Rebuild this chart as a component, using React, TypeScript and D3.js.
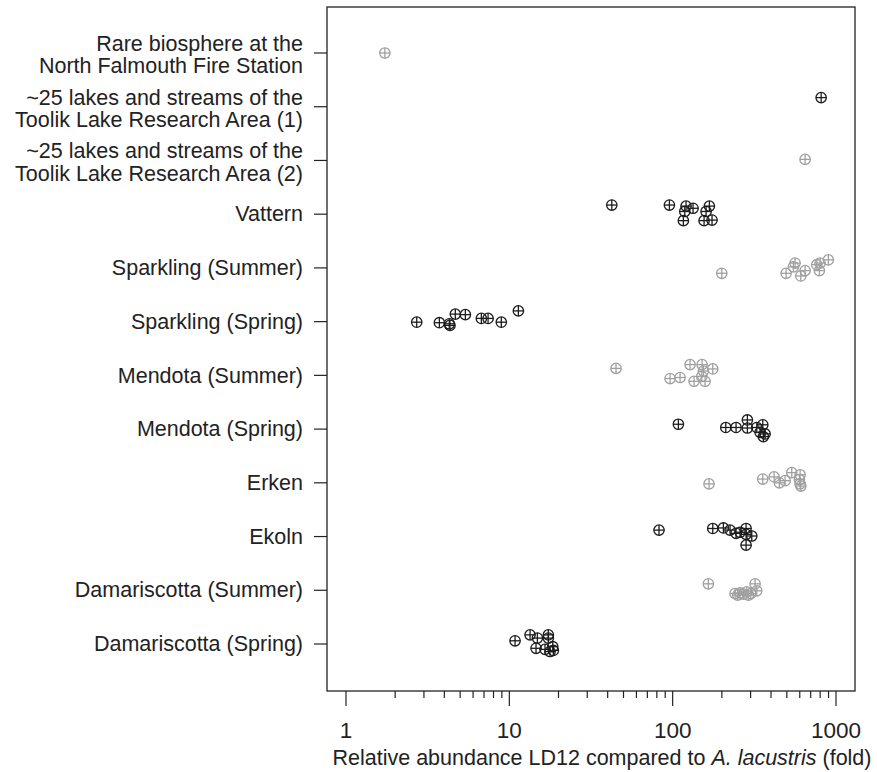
import React from "react";
import * as d3 from "d3";

// Categories (top to bottom)
const categories: string[][] = [
  ["Rare biosphere at the", "North Falmouth Fire Station"],
  ["~25 lakes and streams of the", "Toolik Lake Research Area (1)"],
  ["~25 lakes and streams of the", "Toolik Lake Research Area (2)"],
  ["Vattern"],
  ["Sparkling (Summer)"],
  ["Sparkling (Spring)"],
  ["Mendota (Summer)"],
  ["Mendota (Spring)"],
  ["Erken"],
  ["Ekoln"],
  ["Damariscotta (Summer)"],
  ["Damariscotta (Spring)"],
];
const seriesTone = ["gray", "black", "gray", "black", "gray", "black", "gray", "black", "gray", "black", "gray", "black"];

// Fold values per category
const rareBiosphere = [1.73];
const toolik1 = [811];
const toolik2 = [647];
const vattern = [42.4, 95.5, 120.8, 133.3, 118.6, 167.8, 160.2, 116.3, 155.7, 174.2];
const sparklingSummer = [199.8, 561.7, 548.3, 494.9, 608.7, 647, 762.9, 799, 791, 898];
const sparklingSpring = [2.71, 3.73, 4.29, 4.33, 4.67, 5.38, 6.74, 7.41, 8.93, 11.36];
const mendotaSummer = [45.0, 96.4, 111, 127.8, 135.2, 151.4, 154.2, 150.7, 157.9, 176];
const mendotaSpring = [108.4, 211.4, 244.4, 286.7, 286.7, 327.3, 356.2, 342.8, 368, 359];
const erken = [167, 356, 418, 450, 488, 536, 603, 597, 603, 609];
const ekoln = [82.5, 176, 204.4, 224.6, 244.4, 281.5, 281.5, 305, 258.6, 281.5];
const damariscottaSummer = [165.4, 241, 258.6, 271, 284.2, 300.7, 319.6, 327.3, 250, 291];
const damariscottaSpring = [10.84, 13.39, 14.85, 14.57, 17.33, 17.33, 16.54, 18.44, 17.75, 18.6];

// Vertical jitter (fraction of category spacing)
const jitter: number[][] = [
  [0],
  [-0.17],
  [-0.02],
  [-0.17, -0.17, -0.15, -0.11, -0.05, -0.15, -0.05, 0.12, 0.12, 0.11],
  [0.1, -0.09, -0.02, 0.1, 0.15, 0.05, -0.06, -0.09, 0.05, -0.15],
  [0.01, 0.02, 0.04, 0.07, -0.14, -0.13, -0.06, -0.06, 0.01, -0.2],
  [-0.13, 0.06, 0.04, -0.2, 0.11, -0.2, -0.08, 0.02, 0.11, -0.12],
  [-0.09, -0.03, -0.03, -0.17, -0.02, -0.03, -0.08, 0.06, 0.09, 0.14],
  [0.02, -0.07, -0.11, 0.0, -0.04, -0.19, -0.15, -0.06, 0.02, 0.06],
  [-0.12, -0.15, -0.16, -0.12, -0.06, -0.15, -0.04, -0.01, -0.08, 0.16],
  [-0.12, 0.06, 0.05, 0.07, 0.03, 0.06, -0.12, 0.01, 0.09, 0.09],
  [-0.06, -0.17, -0.11, 0.08, -0.17, -0.11, 0.1, 0.05, 0.14, 0.12],
];

const allValues = [
  rareBiosphere, toolik1, toolik2, vattern, sparklingSummer, sparklingSpring,
  mendotaSummer, mendotaSpring, erken, ekoln, damariscottaSummer, damariscottaSpring,
];

const xTickLabels = [1, 10, 100, 1000];
const xTitlePre = "Relative abundance LD12 compared to ";
const xTitleItalic = "A. lacustris";
const xTitlePost = " (fold)";

const W = 877;
const H = 772;
const box = { left: 327, right: 855, top: 7, bottom: 691 };
const FONT = "'Liberation Sans', Arial, Helvetica, sans-serif";
const FS = 21.5;
const colors: Record<string, string> = { gray: "#a0a0a0", black: "#1c1c1c" };

export default function App() {
  const x = d3.scaleLog().domain([1, 1000]).range([346, 836]);
  const y = d3
    .scalePoint<number>()
    .domain(d3.range(categories.length))
    .range([53, 644]);
  const step = y.step();

  const minorTicks: number[] = [];
  for (const d of [1, 10, 100]) for (let k = 2; k <= 9; k++) minorTicks.push(d * k);

  const r = 5.2;

  return (
    <svg width={W} height={H} style={{ position: "absolute", left: 0, top: 0 }}>
      <rect x={0} y={0} width={W} height={H} fill="#fff" />
      <rect
        x={box.left}
        y={box.top}
        width={box.right - box.left}
        height={box.bottom - box.top}
        fill="none"
        stroke="#222"
        strokeWidth={1.3}
      />
      {/* y ticks and labels */}
      {categories.map((lines, i) => {
        const cy = y(i)!;
        const lh = 22.5;
        const n = lines.length;
        return (
          <g key={"yc" + i}>
            <line x1={314} x2={box.left} y1={cy} y2={cy} stroke="#222" strokeWidth={1.2} />
            {lines.map((t, j) => (
              <text
                key={j}
                x={303}
                y={cy + (j - (n - 1) / 2) * lh + (n > 1 ? 3.5 : 1.5)}
                textAnchor="end"
                dominantBaseline="middle"
                fontFamily={FONT}
                fontSize={FS}
                fill="#222"
              >
                {t}
              </text>
            ))}
          </g>
        );
      })}
      {/* x ticks */}
      {xTickLabels.map((v) => (
        <g key={"xt" + v}>
          <line x1={x(v)} x2={x(v)} y1={box.bottom} y2={box.bottom + 15} stroke="#222" strokeWidth={1.2} />
          <text
            x={x(v)}
            y={box.bottom + 47}
            textAnchor="middle"
            fontFamily={FONT}
            fontSize={22.5}
            fill="#222"
          >
            {v}
          </text>
        </g>
      ))}
      {minorTicks.map((v) => (
        <line key={"mt" + v} x1={x(v)} x2={x(v)} y1={box.bottom} y2={box.bottom + 7} stroke="#222" strokeWidth={1.2} />
      ))}
      <text x={(box.left + box.right) / 2 + 11} y={765} textAnchor="middle" fontFamily={FONT} fontSize={FS} fill="#222">
        {xTitlePre}
        <tspan fontStyle="italic">{xTitleItalic}</tspan>
        {xTitlePost}
      </text>
      {/* points */}
      {allValues.map((vals, i) => {
        const col = colors[seriesTone[i]];
        return (
          <g key={"s" + i} stroke={col} strokeWidth={1.3} fill="none">
            {vals.map((v, j) => {
              const px = x(v);
              const py = y(i)! + jitter[i][j] * step;
              return (
                <g key={j}>
                  <circle cx={px} cy={py} r={r} />
                  <line x1={px - r} x2={px + r} y1={py} y2={py} />
                  <line x1={px} x2={px} y1={py - r} y2={py + r} />
                </g>
              );
            })}
          </g>
        );
      })}
    </svg>
  );
}
